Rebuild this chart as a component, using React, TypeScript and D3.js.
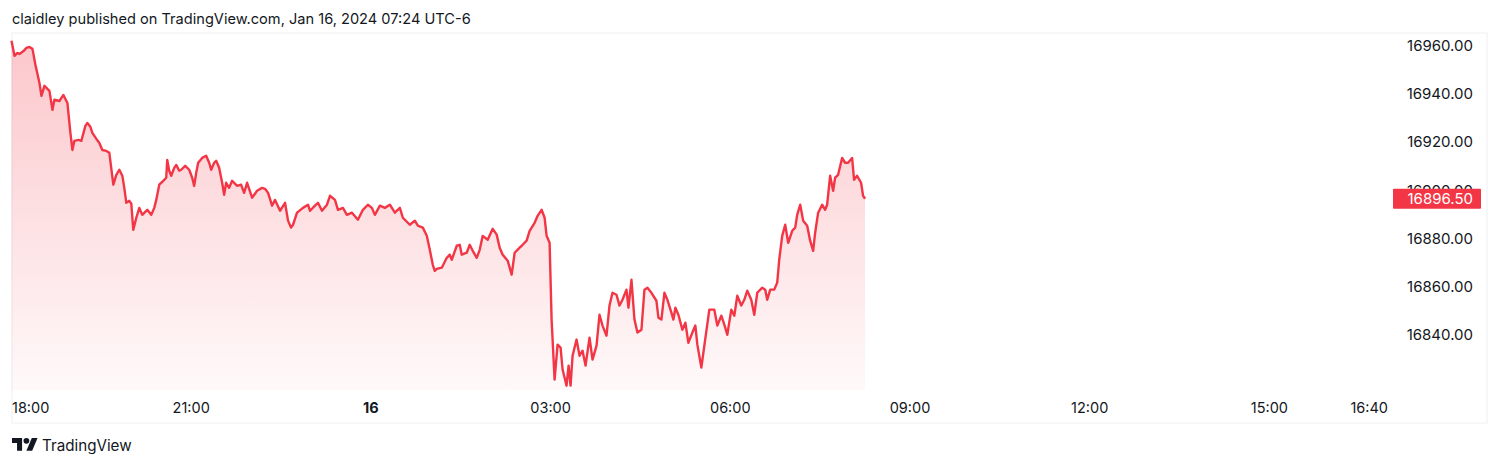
import React from "react";
import * as d3 from "d3";

const minutes = [0,3,6,8,12,15,18,21,24,28,30,33,36,38,41,43,48,52,56,59,61,63,67,70,74,76,79,81,85,88,91,95,98,102,105,108,111,113,115,118,120,122,125,128,131,136,140,143,145,148,152,155,156,158,160,163,165,168,170,174,178,181,183,185,187,191,195,198,200,203,205,208,211,213,215,218,221,226,230,233,236,241,246,251,254,257,261,264,269,274,277,280,282,286,292,297,299,304,307,311,316,319,324,327,332,336,341,347,352,357,361,364,369,374,379,384,389,392,399,404,407,412,416,419,422,424,426,431,436,439,441,446,449,451,456,459,462,466,469,472,477,482,486,489,492,497,501,504,509,512,516,519,524,527,531,534,536,539,541,544,547,550,552,556,558,560,562,566,569,572,575,579,582,586,589,592,596,599,602,606,609,612,616,618,621,624,627,631,634,637,641,646,648,651,654,657,661,663,665,668,672,675,678,682,685,687,691,694,699,704,707,711,714,717,721,724,727,731,734,737,741,744,747,752,755,757,760,764,767,769,772,775,778,782,785,787,790,793,797,800,803,805,808,812,815,817,820,823,825,828,832,835,838,842,844,847,851,853,855];

const prices = [16962.0,16955.7,16956.9,16956.5,16957.7,16959.0,16959.4,16958.6,16951.9,16944.5,16939.1,16943.3,16942.0,16941.2,16933.3,16937.5,16937.0,16939.5,16936.2,16923.8,16916.7,16920.5,16920.9,16920.5,16926.7,16927.9,16926.3,16923.8,16921.3,16919.6,16916.7,16916.3,16915.5,16902.3,16906.4,16908.5,16906.0,16901.0,16894.8,16895.6,16894.4,16883.6,16888.6,16892.7,16889.8,16891.9,16889.8,16892.7,16896.0,16902.3,16903.9,16905.2,16912.6,16908.1,16906.0,16909.3,16910.5,16908.1,16908.5,16910.1,16908.5,16905.2,16901.8,16907.2,16911.4,16913.4,16914.3,16911.4,16908.5,16911.4,16912.2,16909.3,16903.1,16898.1,16903.1,16901.0,16903.9,16901.8,16902.3,16898.9,16903.1,16896.9,16899.8,16901.0,16900.6,16898.9,16893.6,16896.0,16891.5,16894.8,16887.4,16884.5,16885.7,16890.7,16892.7,16894.0,16891.5,16893.6,16894.8,16891.5,16894.0,16897.7,16896.0,16891.9,16892.7,16889.8,16890.7,16887.8,16891.9,16894.0,16892.7,16889.8,16893.6,16892.7,16894.0,16890.7,16892.7,16888.6,16885.7,16887.4,16885.3,16884.5,16881.1,16875.3,16869.1,16866.6,16867.4,16867.9,16872.0,16873.3,16871.2,16877.0,16877.4,16873.3,16874.1,16877.4,16874.9,16872.0,16875.3,16881.1,16879.5,16884.0,16881.6,16876.2,16873.3,16870.8,16865.0,16874.1,16876.2,16877.4,16879.1,16883.2,16886.5,16889.4,16891.9,16888.6,16881.1,16878.2,16846.4,16821.5,16836.0,16834.8,16825.7,16819.0,16827.3,16819.0,16831.4,16838.1,16831.4,16833.5,16827.3,16838.9,16829.8,16835.6,16848.4,16843.9,16839.7,16852.2,16857.5,16856.7,16852.2,16854.6,16858.8,16851.3,16862.9,16846.4,16841.0,16842.2,16858.8,16859.6,16857.5,16854.2,16847.2,16846.4,16857.5,16854.6,16849.3,16846.4,16851.3,16848.4,16842.2,16845.1,16836.8,16841.0,16843.9,16836.0,16826.5,16835.6,16850.5,16850.5,16843.9,16848.0,16844.3,16840.1,16850.5,16848.0,16856.3,16852.2,16854.6,16858.4,16854.6,16848.4,16857.5,16859.6,16858.8,16854.6,16858.8,16858.8,16861.7,16871.2,16881.1,16885.7,16878.2,16883.2,16884.5,16889.8,16894.0,16887.4,16885.3,16879.1,16874.9,16882.4,16890.7,16894.0,16891.9,16894.0,16906.0,16899.8,16905.2,16906.4,16913.4,16911.4,16911.4,16913.4,16904.3,16906.0,16903.1,16897.7,16896.5];

const priceTicks = [16840, 16860, 16880, 16900, 16920, 16940, 16960];
const timeTickMinutes = [0, 180, 360, 540, 720, 900, 1080, 1260, 1360];
const timeTickLabels = ["18:00", "21:00", "16", "03:00", "06:00", "09:00", "12:00", "15:00", "16:40"];
const lastPrice = 16896.5;

const startMs = Date.UTC(2024, 0, 15, 18, 0);
const toDate = (m: number) => new Date(startMs + m * 60000);

const RED = "#f23645";
const TEXT = "#131722";
const FONT = "Inter, 'Noto Sans', sans-serif";

export default function App() {
  const x = d3.scaleUtc().domain([toDate(0), toDate(23 * 60)]).range([11.5, 1389.2]);
  const y = d3.scaleLinear().domain([16840, 16960]).range([335, 45.5]);
  const paneBottom = 390;

  const data = minutes.map((m, i) => ({ t: toDate(m), v: prices[i] }));
  const line = d3.line<{ t: Date; v: number }>().x((d) => x(d.t)).y((d) => y(d.v));
  const area = d3
    .area<{ t: Date; v: number }>()
    .x((d) => x(d.t))
    .y0(paneBottom)
    .y1((d) => y(d.v));
  const topY = y(d3.max(prices) as number);
  const lastY = y(lastPrice);

  return (
    <svg
      width={1500}
      height={466}
      style={{ position: "absolute", left: 0, top: 0, background: "#fff" }}
      fontFamily={FONT}
    >
      <defs>
        <linearGradient id="areaGrad" gradientUnits="userSpaceOnUse" x1={0} y1={topY} x2={0} y2={paneBottom}>
          <stop offset="0%" stopColor={RED} stopOpacity={0.28} />
          <stop offset="100%" stopColor={RED} stopOpacity={0.03} />
        </linearGradient>
      </defs>

      <text x={12} y={24} fontSize={14.6} fill={TEXT}>
        claidley published on TradingView.com, Jan 16, 2024 07:24 UTC-6
      </text>

      <rect x={12} y={33} width={1475} height={390} fill="none" stroke="#eef0f4" strokeWidth={1} />

      <path d={area(data) || ""} fill="url(#areaGrad)" />
      <path d={line(data) || ""} fill="none" stroke={RED} strokeWidth={2.4} strokeLinejoin="round" />

      {priceTicks.map((p) => (
        <text key={p} x={1473} y={y(p)} dy="0.36em" textAnchor="end" fontSize={15} fill={TEXT}>
          {p.toFixed(2)}
        </text>
      ))}

      <rect x={1393} y={lastY - 10} width={88} height={20} fill={RED} rx={1} />
      <text x={1473} y={lastY} dy="0.36em" textAnchor="end" fontSize={15} fill="#fff">
        {lastPrice.toFixed(2)}
      </text>

      {timeTickMinutes.map((m, i) => (
        <text
          key={m}
          x={i === 0 ? 12 : x(toDate(m))}
          y={412.5}
          textAnchor={i === 0 ? "start" : "middle"}
          fontSize={14.5}
          fontWeight={timeTickLabels[i] === "16" ? 700 : 400}
          fill={TEXT}
        >
          {timeTickLabels[i]}
        </text>
      ))}

      <g transform="translate(12,435) scale(0.72)" fill={TEXT}>
        <path d="M14 22H7V11H0V4h14v18z" />
        <path d="M28 22h-8l7.5-18h8L28 22z" />
        <circle cx={20} cy={8} r={4} />
      </g>
      <text x={42} y={451} fontSize={15.2} fill={TEXT}>
        TradingView
      </text>
    </svg>
  );
}
